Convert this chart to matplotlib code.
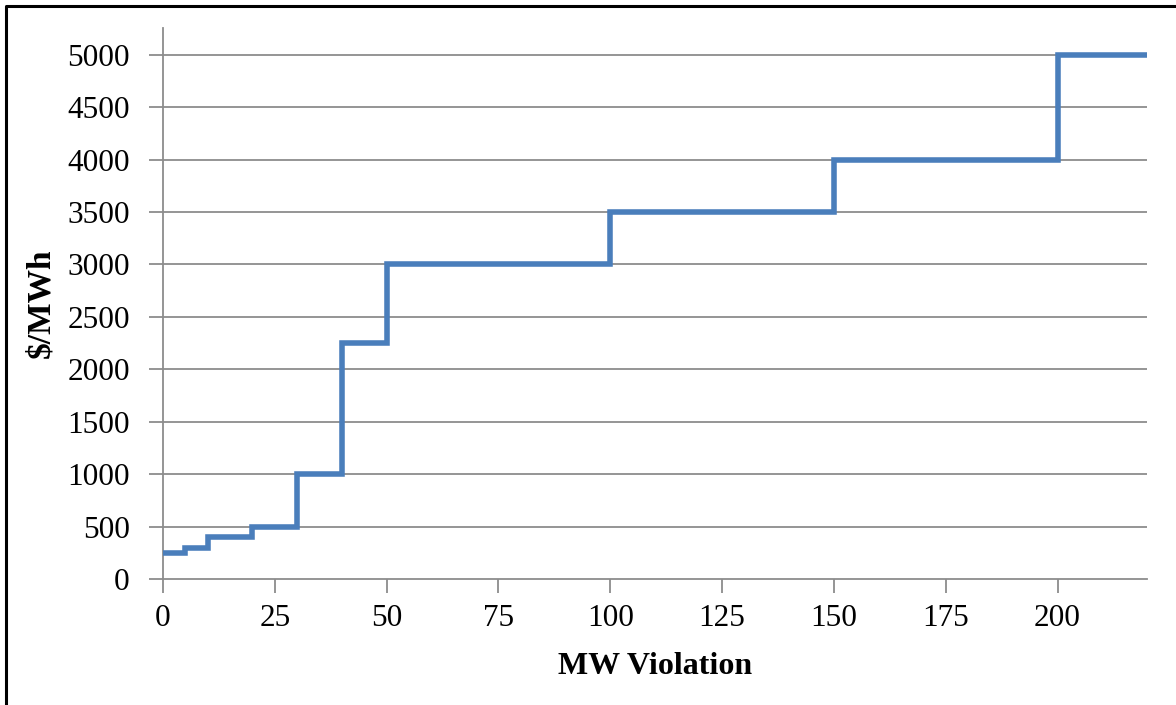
import matplotlib.pyplot as plt
from matplotlib.lines import Line2D

plt.rcParams['font.family'] = ['Liberation Serif', 'DejaVu Serif']

# step breakpoints (MW) and penalty price ($/MWh) for each segment
mw_breaks = [0, 5, 10, 20, 30, 40, 50, 100, 150, 200, 220]
price = [250, 300, 400, 500, 1000, 2250, 3000, 3500, 4000, 5000, 5000]
x_ticks = [0, 25, 50, 75, 100, 125, 150, 175, 200]
y_ticks = list(range(0, 5001, 500))

W, H = 1176, 705
fig = plt.figure(figsize=(W / 100, H / 100), dpi=100)
ax = fig.add_axes([163 / W, 1 - 579 / H, (1147 - 163) / W, (579 - 28) / H])

grey = '#8c8c8c'
for y in y_ticks[1:]:
    ax.axhline(y, color=grey, lw=1.3, zorder=1)

ax.step(mw_breaks, price, where='post', color='#4a7ebb', lw=4,
        solid_joinstyle='miter', zorder=3)

ax.set_xlim(0, 220)
ax.set_ylim(0, 5255)
ax.set_xticks(x_ticks)
ax.set_yticks(y_ticks)
ax.tick_params(axis='both', colors=grey, labelcolor='black', labelsize=22.5,
               length=10, width=1.3, direction='out')
ax.tick_params(axis='x', pad=8)
ax.tick_params(axis='y', pad=14)

for s in ['top', 'right']:
    ax.spines[s].set_visible(False)
for s in ['left', 'bottom']:
    ax.spines[s].set_color(grey)
    ax.spines[s].set_linewidth(1.3)

ax.set_xlabel('MW Violation', fontsize=23, fontweight='bold', labelpad=14)
ax.set_ylabel('$/MWh', fontsize=24, fontweight='bold', labelpad=8)

# outer frame (left and top edges visible in the original)
fig.add_artist(Line2D([6 / W, 6 / W, 1], [0, 1 - 6 / H, 1 - 6 / H],
                      transform=fig.transFigure, color='black', lw=2.2))

fig.savefig('out.png', dpi=100)
